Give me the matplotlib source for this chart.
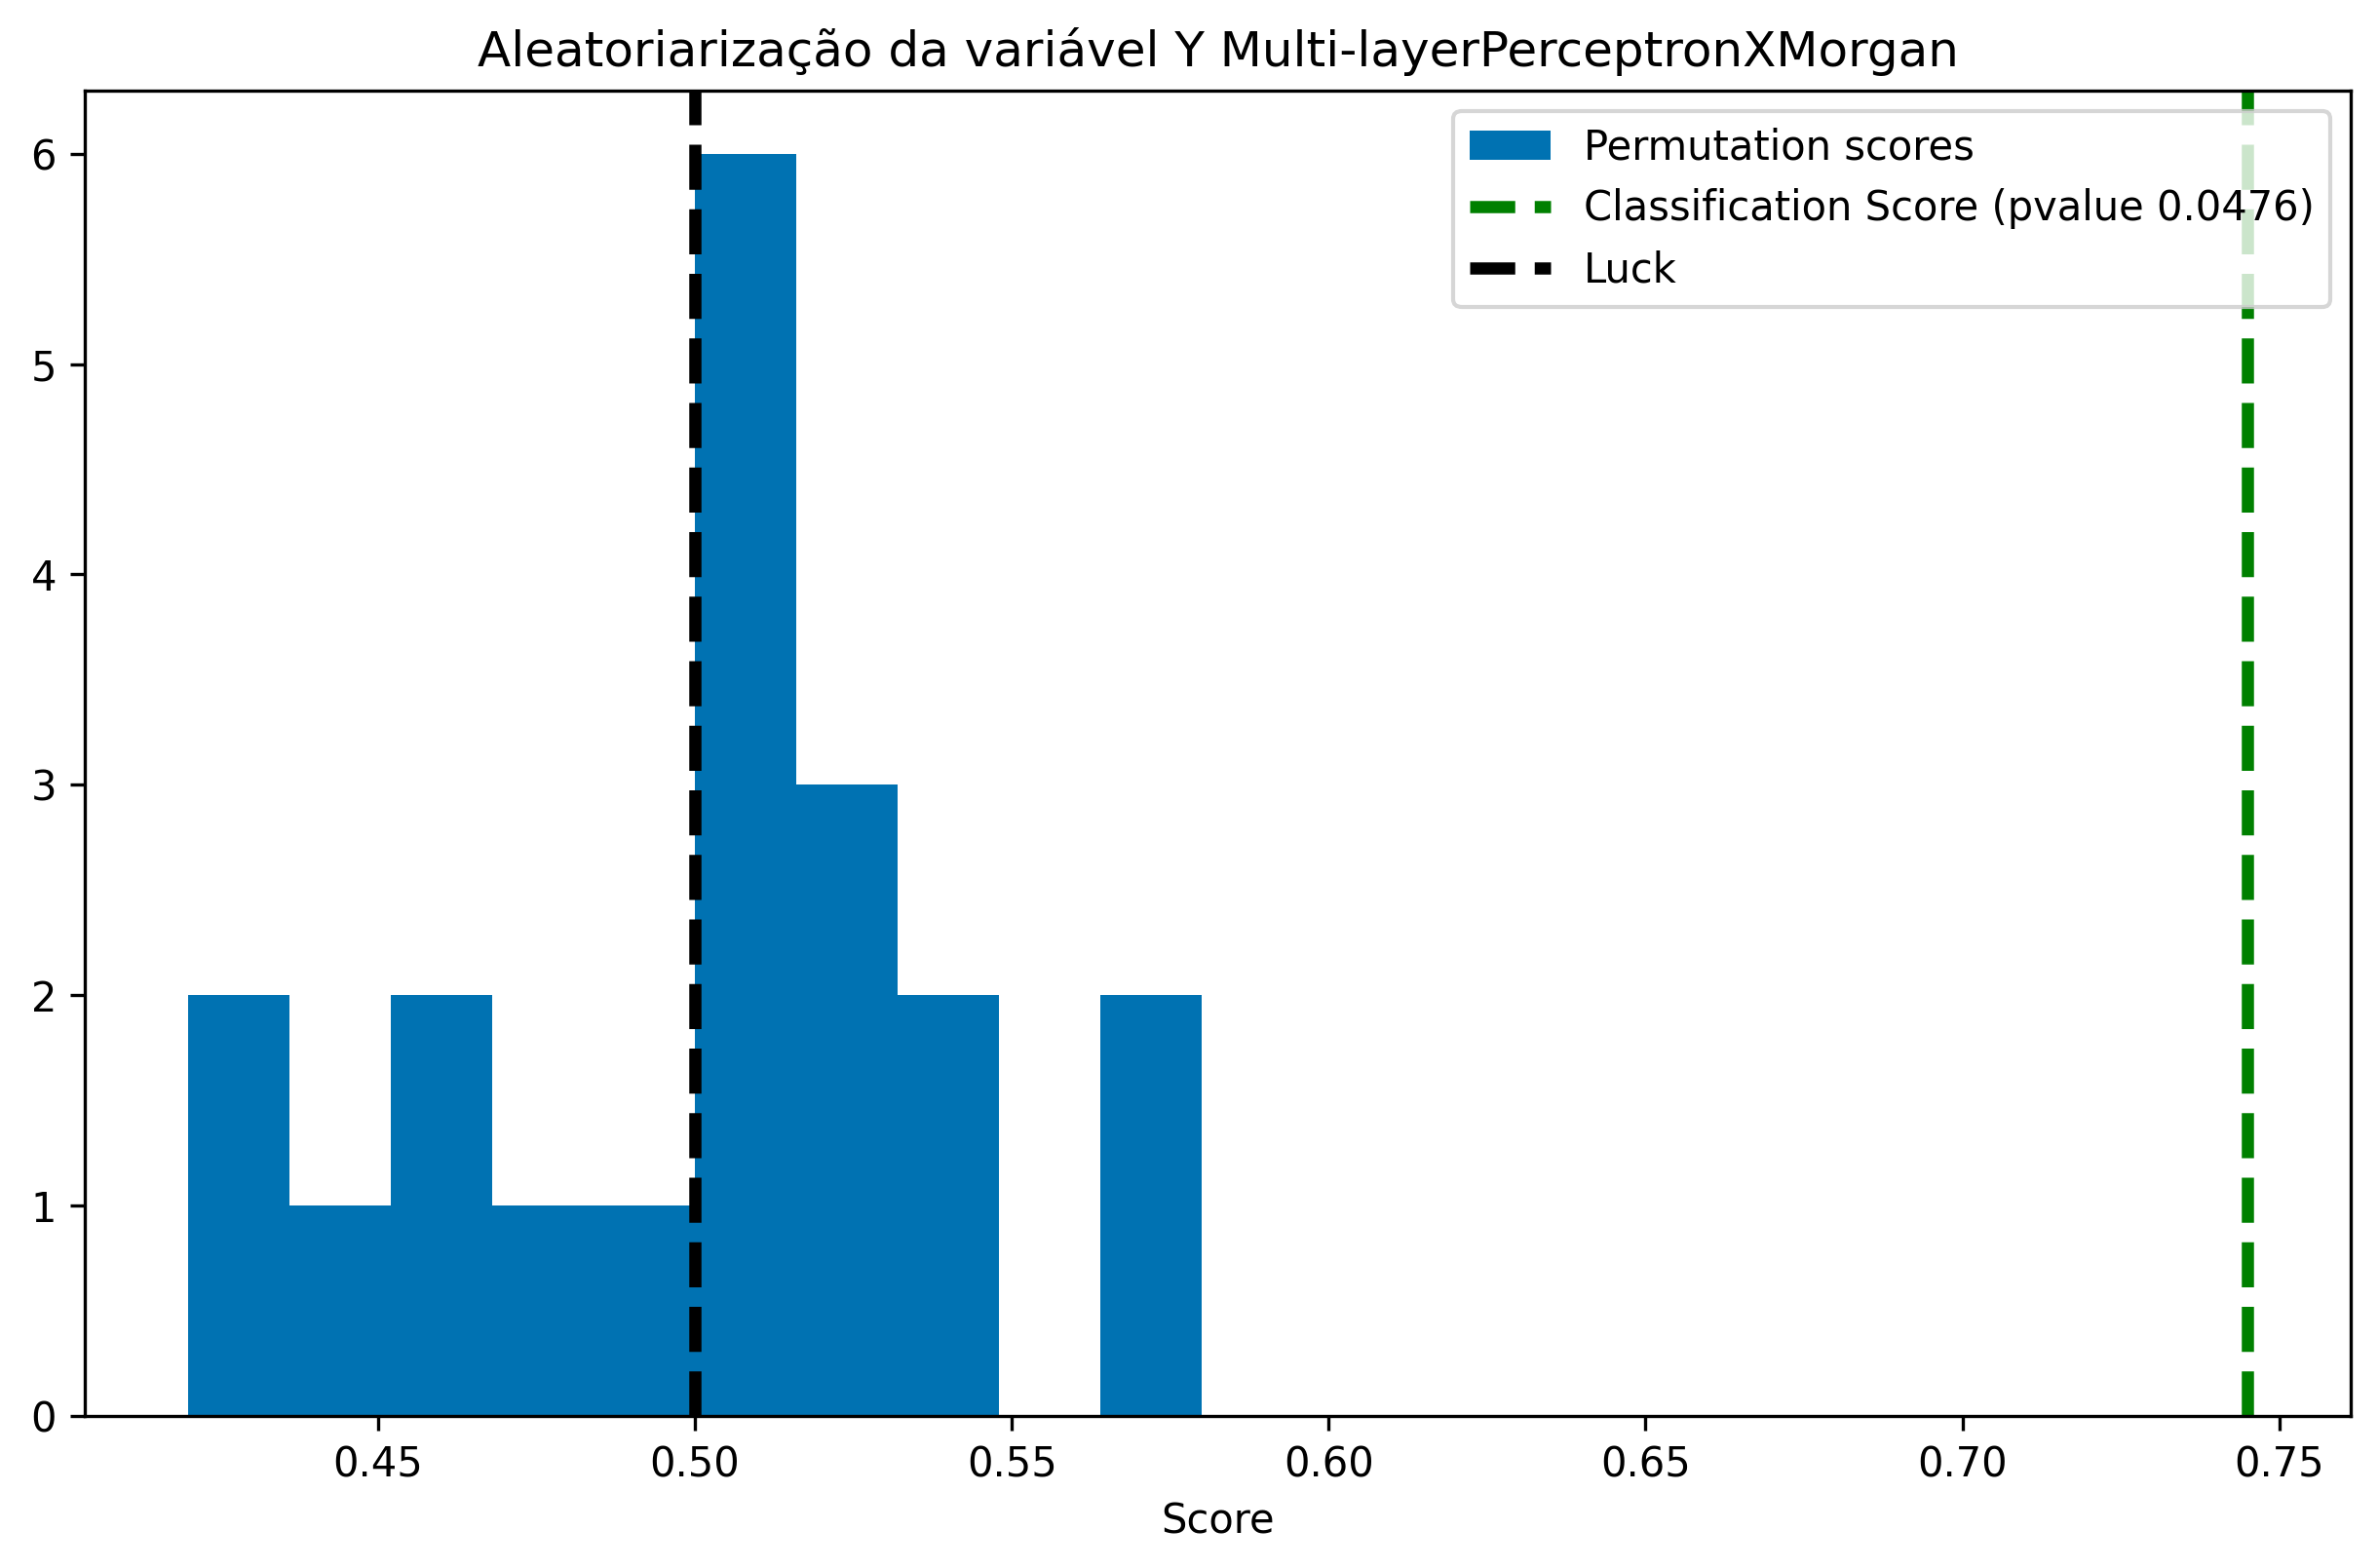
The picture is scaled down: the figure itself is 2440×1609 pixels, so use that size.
import numpy as np
import matplotlib
matplotlib.use("Agg")
import matplotlib.pyplot as plt

# histogram of permutation scores
bin_edges = [0.420, 0.436, 0.452, 0.468, 0.484, 0.500, 0.516, 0.532, 0.548, 0.564, 0.580]
counts = [2, 1, 2, 1, 1, 6, 3, 2, 0, 2]
score = 0.745
pvalue = 0.0476
luck = 0.5

centers = [(a + b) / 2 for a, b in zip(bin_edges[:-1], bin_edges[1:])]

fig, ax = plt.subplots(figsize=(2440 / 300, 1609 / 300), dpi=300)
fig.subplots_adjust(left=0.0357, right=0.9885, bottom=0.097, top=0.9422)
ax.hist(centers, bins=bin_edges, weights=counts, color="#0072B2",
        label="Permutation scores")
ylim = ax.get_ylim()
ax.plot(2 * [score], ylim, "--g", linewidth=3,
        label="Classification Score (pvalue %s)" % pvalue)
ax.plot(2 * [luck], ylim, "--k", linewidth=3, label="Luck")
ax.set_ylim(ylim)
ax.legend(loc="upper right")
ax.set_xlabel("Score")
ax.set_title("Aleatoriarização da variável Y Multi-layerPerceptronXMorgan")
fig.savefig("out.png")
